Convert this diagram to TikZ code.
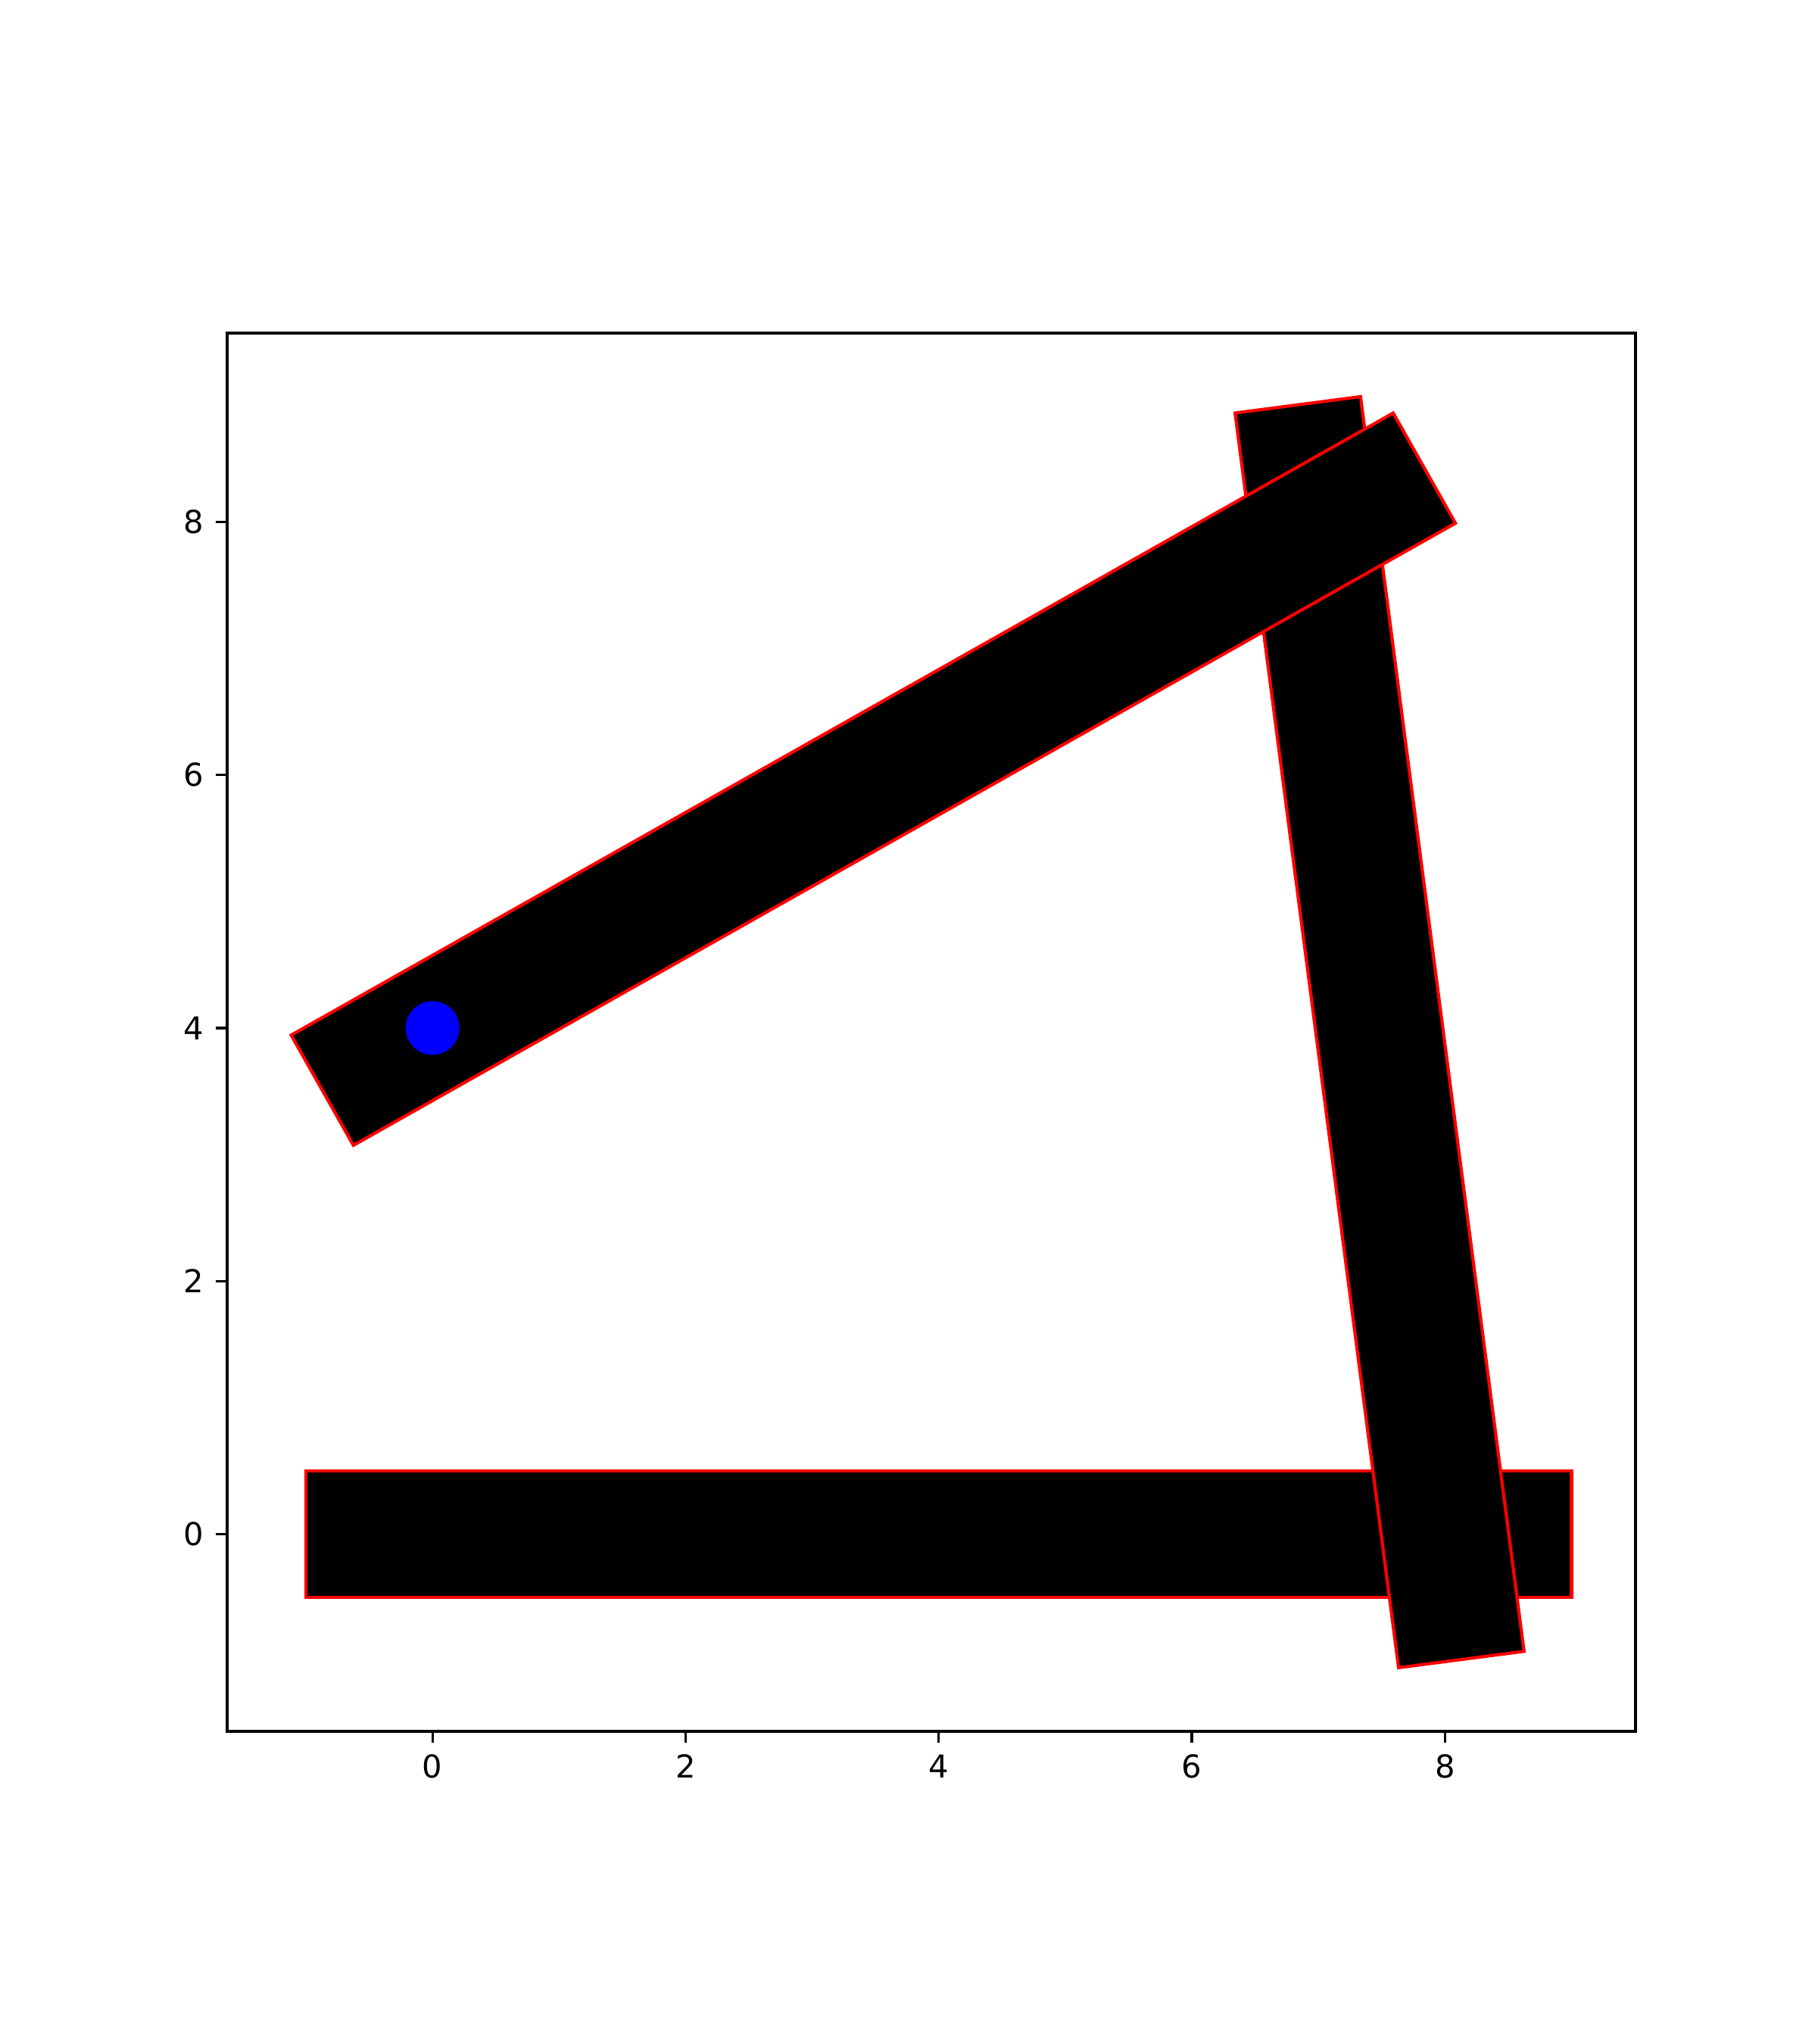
\documentclass[tikz,border=0pt]{standalone}
\usepackage{fontspec}
\setmainfont{DejaVu Sans}
\begin{document}
\begin{tikzpicture}[x=1.67145cm,y=1.67145cm,
  linkbar/.style={fill=black,draw=red,line width=1.186pt},
  axesframe/.style={draw=black,line width=0.948pt},
  tickmark/.style={line width=0.948pt},
  ticklabel/.style={inner sep=0pt,font=\fontsize{11.86}{14}\selectfont}]
\useasboundingbox (-3.4173,-4.0293) rectangle (10.9416,12.1243);
\draw[linkbar] (-1,-0.5) rectangle (9,0.5);
\draw[linkbar,shift={(6.96628,7.93331)},rotate=-82.576] (-1,-0.5) rectangle (9,0.5);
\draw[linkbar,shift={(0,4)},rotate=29.45] (-1,-0.5) rectangle (9,0.5);
\filldraw[blue,line width=1.186pt] (0,4) circle[radius=0.2];
\draw[axesframe] (-1.62243,-1.5581) rectangle (9.50583,9.4918);
\foreach \v in {0,2,4,6,8} {
  \draw[tickmark] (\v,-1.5581) -- ++(0,-4.15pt) node[ticklabel,anchor=north,yshift=-4.15pt] (xl\v) {\v};
  \draw[tickmark] (-1.62243,\v) -- ++(-4.15pt,0) node[ticklabel,anchor=east,xshift=-4.15pt] (yl\v) {\v};
}
\end{tikzpicture}
\end{document}
